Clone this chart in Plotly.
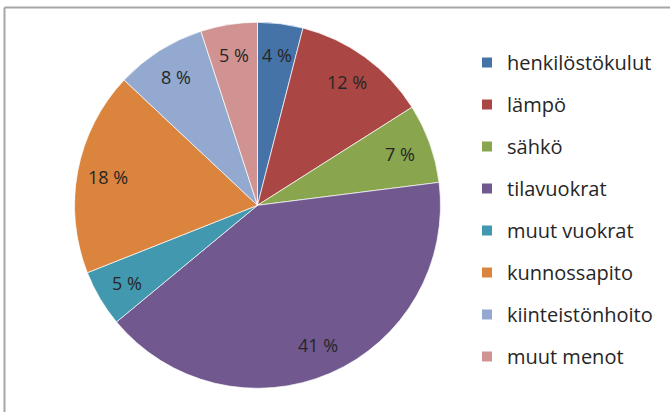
import math
import plotly.graph_objects as go

categories = ["henkilöstökulut", "lämpö", "sähkö", "tilavuokrat",
              "muut vuokrat", "kunnossapito", "kiinteistönhoito", "muut menot"]
values = [4, 12, 7, 41, 5, 18, 8, 5]
colors = ["#4572A7", "#AA4643", "#89A54E", "#71588F",
          "#4198AF", "#DB843D", "#93A9CF", "#D19392"]

W, H = 670, 412
FONT = "'Open Sans', sans-serif"
CX, CY, R = 257.5, 205.3, 183  # pie centre / radius in pixels
LABEL_R = 0.83

fig = go.Figure()
fig.add_trace(go.Pie(
    labels=categories, values=values, sort=False, direction="clockwise",
    rotation=0, marker=dict(colors=colors, line=dict(color="white", width=0.7)),
    textinfo="none", showlegend=False, hoverinfo="label+value",
    domain=dict(x=[(CX - R) / W, (CX + R) / W], y=[1 - (CY + R) / H, 1 - (CY - R) / H]),
))

# data labels placed on each slice's bisector (derived from the values)
total = sum(values)
cum = 0
annotations = []
for v in values:
    mid = (cum + v / 2) / total * 2 * math.pi
    cum += v
    px = CX + LABEL_R * R * math.sin(mid)
    py = CY - LABEL_R * R * math.cos(mid)
    annotations.append(dict(
        x=px / W, y=1 - py / H, xref="paper", yref="paper", showarrow=False,
        text=f"{v} %", font=dict(family=FONT, size=18, color="#262626"),
        xanchor="center", yanchor="middle",
    ))

for c, col in zip(categories, colors):
    fig.add_trace(go.Scatter(
        x=[None], y=[None], mode="markers", name=c, legendgroup=c,
        marker=dict(symbol="square", size=10, color=col),
    ))

fig.update_layout(
    width=W, height=H, margin=dict(l=0, r=0, t=0, b=0),
    paper_bgcolor="white", plot_bgcolor="white",
    xaxis=dict(visible=False), yaxis=dict(visible=False),
    legend=dict(x=467 / W, y=1 - 43 / H, xanchor="left", yanchor="top",
                font=dict(family=FONT, size=20, color="#262626"),
                tracegroupgap=13, itemwidth=30, bgcolor="rgba(0,0,0,0)"),
    annotations=annotations,
    shapes=[
        dict(type="line", xref="paper", yref="paper", x0=4.5 / W, x1=1, y0=1 - 7.5 / H, y1=1 - 7.5 / H,
             line=dict(color="#A6A6A6", width=2)),
        dict(type="line", xref="paper", yref="paper", x0=4.5 / W, x1=4.5 / W, y0=0, y1=1 - 7.5 / H,
             line=dict(color="#A6A6A6", width=2)),
    ],
)
fig.write_html("out.html", config={"displayModeBar": False},
               post_script="document.body.style.margin='0';")
